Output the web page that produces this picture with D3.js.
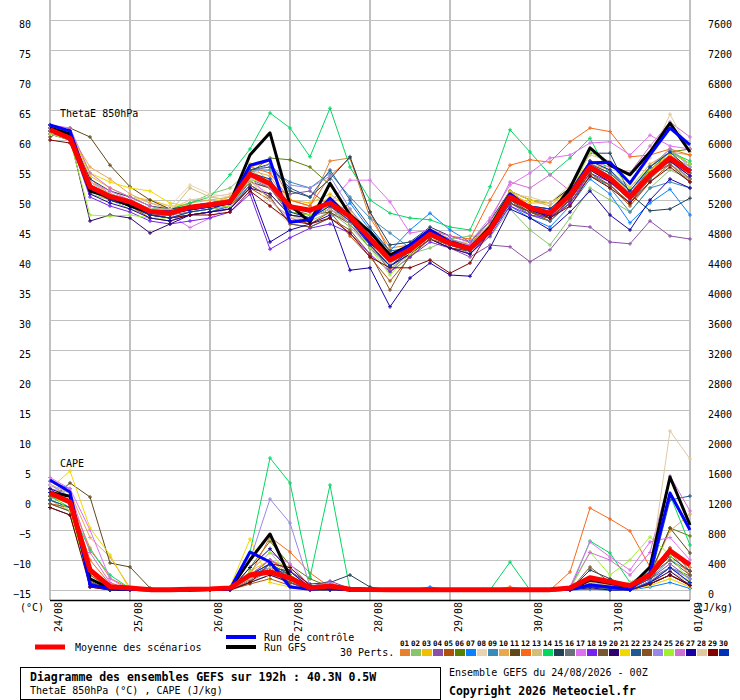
<!DOCTYPE html>
<html>
<head>
<meta charset="utf-8">
<script src="https://cdn.jsdelivr.net/npm/d3@7"></script>
<style>
  body { margin: 0; background: #fff; }
  svg { display: block; font-family: "DejaVu Sans Mono", monospace; }
</style>
</head>
<body>
<div id="chart"></div>
<script>

// Time steps (hours since 24/08 00Z)
var hours = [0,6,12,18,24,30,36,42,48,54,60,66,72,78,84,90,96,102,108,114,120,126,132,138,144,150,156,162,168,174,180,186,192];
var dayLabels = ['24/08','25/08','26/08','27/08','28/08','29/08','30/08','31/08','01/09'];
var dayHours = [0,24,48,72,96,120,144,168,192];
var leftTicks = [-15,-10,-5,0,5,10,15,20,25,30,35,40,45,50,55,60,65,70,75,80];
var rightTicks = [0,400,800,1200,1600,2000,2400,2800,3200,3600,4000,4400,4800,5200,5600,6000,6400,6800,7200,7600];

var pertNames = ['01','02','03','04','05','06','07','08','09','10','11','12','13','14','15',
                 '16','17','18','19','20','21','22','23','24','25','26','27','28','29','30'];
var pertColors = ['#e8812e','#88c46a','#f0c000','#8a50a8','#b0500a','#5a8000','#0a80ff','#e8d4b0','#3a8ab8','#e8a850',
                  '#604818','#f86818','#d0c078','#00d860','#204058','#687078','#e070f0','#7820f0','#785830','#300070',
                  '#f0d800','#205890','#885020','#9888e8','#a0f030','#d070d0','#1800a0','#e0c8a0','#800000','#0030b8'];

// ThetaE 850hPa (°C)
var thetaMean = [61.7,60.3,52.2,50.6,49.7,48.1,47.8,48.8,49.2,49.7,54.3,52.7,48.9,48.3,49.5,47.2,43.6,40.0,41.7,44.3,42.8,41.9,45.0,50.5,48.7,47.8,50.8,55.5,53.6,50.5,54.2,57.0,54.7];
var thetaCtrl = [62.5,61.5,52.0,50.5,49.5,48.0,48.0,48.5,49.0,49.5,55.8,56.7,46.3,46.7,50.3,47.0,43.0,40.3,42.5,45.0,43.0,42.0,45.0,51.0,48.5,47.5,51.0,56.2,56.3,52.8,57.5,62.0,59.2];
var thetaGfs  = [62.0,61.0,51.5,50.5,49.0,48.0,48.0,48.5,49.0,49.5,57.5,61.2,49.2,46.3,52.8,47.5,44.7,40.8,42.5,45.0,43.0,42.0,45.5,51.0,48.5,47.5,52.0,58.7,55.8,54.2,58.0,62.8,58.0];
var thetaPert = [
  [62.0,61.0,53.5,51.0,50.0,48.5,48.0,49.0,49.5,50.0,55.5,56.5,50.0,49.0,56.5,57.0,47.0,42.0,42.5,45.0,43.5,42.0,46.0,51.5,49.0,48.5,51.5,56.0,54.5,51.0,55.0,57.5,55.5],
  [61.0,60.0,51.0,50.0,48.5,47.5,47.0,49.5,51.0,52.0,55.0,53.0,47.5,46.5,48.0,45.5,42.0,38.5,41.0,42.0,43.5,44.0,43.8,48.5,45.0,42.5,47.0,52.0,50.0,48.0,52.0,55.0,53.5],
  [62.5,61.5,54.0,52.0,50.5,50.0,49.0,49.0,49.5,50.5,56.0,53.0,50.0,49.5,51.0,48.5,44.0,40.0,42.5,45.0,43.0,43.0,45.5,51.0,49.5,49.5,52.0,56.5,55.0,51.0,55.5,58.5,56.0],
  [61.5,60.5,52.5,50.5,49.5,48.0,47.5,48.0,48.5,49.0,53.0,52.0,51.0,51.5,49.0,46.0,42.0,39.0,41.5,44.5,42.0,40.5,42.5,42.2,39.7,41.7,45.8,45.5,43.0,42.7,46.5,44.0,43.5],
  [61.0,60.0,51.5,50.0,49.0,47.0,46.5,47.5,48.0,49.0,52.0,50.0,47.0,46.0,48.0,44.0,40.5,36.5,40.5,43.5,42.0,41.5,44.5,49.5,48.0,46.5,49.5,54.0,52.5,49.0,53.0,56.0,53.5],
  [62.0,61.0,52.0,50.5,49.5,48.5,48.5,49.0,49.5,50.0,54.5,57.0,56.7,55.5,52.5,47.5,44.0,40.5,42.0,44.5,43.0,42.5,45.0,50.5,49.0,48.0,51.0,55.5,54.0,51.0,55.0,58.0,58.5],
  [62.5,61.5,52.0,50.5,49.5,47.5,47.0,47.5,48.0,49.0,52.5,50.5,46.0,45.5,47.0,49.5,45.0,41.5,45.0,47.8,45.0,43.0,44.5,49.0,47.0,45.5,49.0,53.5,51.0,46.2,49.5,51.8,47.5],
  [61.5,60.5,53.0,51.5,50.5,49.5,49.0,52.5,51.0,50.5,53.5,49.0,46.0,47.5,48.5,46.0,43.0,39.5,42.0,44.0,42.5,42.0,45.5,50.0,48.5,47.5,50.5,55.0,53.0,50.5,54.0,57.0,55.5],
  [62.0,61.0,52.5,50.0,49.0,47.5,47.5,48.5,49.0,49.5,55.0,55.0,53.0,52.0,54.5,50.5,47.0,44.5,42.0,44.0,43.0,41.0,44.5,50.0,47.5,46.5,50.0,54.5,52.0,48.0,52.0,53.0,52.0],
  [62.0,61.0,55.5,53.5,51.0,49.5,48.5,49.5,50.0,50.5,55.0,54.0,49.0,48.0,50.0,48.0,44.5,41.0,42.5,45.0,43.5,42.5,46.0,51.5,50.0,49.0,52.0,56.0,55.0,52.0,56.0,58.0,57.5],
  [60.5,62.0,60.5,55.8,52.2,50.0,48.5,48.5,49.0,49.5,53.0,52.0,48.0,47.5,48.0,46.0,42.5,39.0,41.0,43.5,42.0,41.5,45.0,50.0,48.0,47.5,50.0,55.0,53.0,50.0,53.5,57.0,54.5],
  [61.5,60.5,52.5,51.0,50.0,48.5,48.0,49.0,49.5,50.0,55.5,54.5,50.0,49.0,54.0,57.0,48.0,41.0,42.5,45.0,44.0,43.5,50.0,55.8,56.7,56.3,59.7,62.0,61.4,57.2,57.5,58.5,57.5],
  [61.0,60.0,52.0,50.5,49.5,48.0,48.0,52.0,50.5,50.0,53.0,51.0,47.5,47.0,48.5,46.5,42.5,38.5,41.5,44.0,42.5,42.0,45.5,50.0,48.5,47.0,50.5,55.0,53.5,50.0,54.0,56.0,53.5],
  [62.0,61.0,53.0,51.0,50.0,48.5,48.5,49.5,50.5,54.2,58.5,64.5,62.0,57.2,65.3,55.5,50.0,47.8,47.0,46.7,45.5,45.0,52.2,61.7,58.0,54.2,57.0,60.3,54.0,50.0,55.5,58.0,56.5],
  [62.5,61.0,53.5,51.5,50.5,49.0,48.5,49.0,49.5,50.0,55.0,56.0,51.5,50.5,53.5,57.2,48.0,42.5,43.0,45.5,44.0,43.0,46.5,51.5,50.0,49.5,52.0,57.8,57.8,51.0,48.2,48.5,50.3],
  [61.5,60.5,52.0,50.0,49.0,47.5,47.0,48.0,48.5,49.0,53.5,52.0,47.5,47.0,49.0,47.0,43.0,38.0,41.5,44.0,42.5,41.5,44.5,49.5,47.5,46.5,49.5,54.0,52.5,49.5,53.5,56.5,53.5],
  [62.0,61.5,53.0,51.5,50.0,48.5,47.5,45.4,47.0,49.0,54.0,50.0,46.5,47.0,49.5,53.3,53.3,49.7,44.5,45.0,44.0,43.0,47.0,52.5,54.5,57.0,57.5,59.5,59.7,57.5,60.8,59.0,58.5],
  [61.0,60.0,50.5,49.0,48.0,46.5,46.0,46.5,47.0,48.0,51.0,41.8,43.7,45.3,46.0,44.5,41.0,38.0,40.5,43.0,42.0,41.0,44.0,49.0,47.5,47.0,49.5,54.5,53.0,50.0,54.0,56.5,54.0],
  [62.0,61.0,52.5,50.5,49.5,48.0,48.0,49.0,49.5,50.0,54.0,53.0,48.5,47.5,49.0,46.5,43.0,39.5,41.5,44.0,42.5,42.0,45.0,50.5,48.5,48.0,51.0,56.0,54.0,51.0,55.0,57.5,55.0],
  [61.5,60.5,46.5,47.5,47.0,44.5,46.0,47.5,48.0,48.5,52.0,51.0,47.5,47.0,48.5,46.0,42.5,39.0,41.0,43.5,42.0,41.0,44.5,49.5,48.0,47.0,50.0,55.0,53.0,50.5,54.5,56.5,54.0],
  [62.0,61.5,54.5,53.0,52.0,51.5,49.5,49.0,49.5,50.0,54.5,52.0,49.0,48.5,50.5,47.5,43.5,40.0,42.0,44.5,43.0,42.5,45.5,51.5,50.0,49.5,51.5,56.5,55.0,50.5,55.0,57.5,55.0],
  [62.0,61.0,52.5,50.5,49.5,47.5,47.5,48.5,49.0,50.0,55.0,55.5,52.0,50.5,55.0,50.0,45.5,41.5,42.0,44.5,43.5,42.0,45.0,50.5,49.0,48.5,51.0,56.0,54.5,51.5,55.5,58.0,56.0],
  [61.5,60.5,52.0,50.0,49.0,47.5,47.0,47.5,48.0,48.5,52.5,50.5,46.0,45.5,47.0,45.0,41.0,35.0,41.0,43.5,42.5,41.5,44.5,49.5,48.0,47.0,50.0,54.5,52.5,49.5,54.0,56.0,53.0],
  [62.0,61.0,53.0,51.0,50.0,48.5,48.0,48.5,49.0,49.5,54.5,56.0,52.5,52.0,54.0,48.5,44.5,40.5,42.0,44.5,43.5,42.5,45.5,50.5,49.0,48.5,51.0,56.0,54.0,51.0,55.5,58.5,55.5],
  [61.0,60.0,47.5,47.3,47.5,47.0,47.0,48.0,48.5,49.0,53.5,52.5,48.0,47.5,49.0,46.5,42.0,37.5,41.0,44.0,42.5,41.5,45.0,50.0,49.0,48.0,51.0,58.0,56.0,52.0,55.5,58.0,56.0],
  [62.5,62.0,54.5,52.0,50.5,49.0,48.0,49.0,49.5,50.0,54.0,52.0,48.5,48.0,50.0,47.5,43.5,40.0,42.5,45.0,43.0,42.5,46.5,53.0,52.0,54.2,51.5,56.5,55.5,54.5,59.0,63.0,60.5],
  [61.5,60.0,51.0,49.5,48.5,47.0,46.5,47.5,48.0,48.5,52.0,43.0,45.0,46.0,47.5,38.3,38.7,32.2,37.0,39.5,37.5,37.3,42.0,48.5,47.0,45.0,48.0,51.5,47.5,45.0,50.0,53.5,52.0],
  [61.5,60.5,53.0,51.0,50.0,48.5,48.5,50.0,50.5,51.0,53.5,50.0,47.0,47.0,48.5,46.0,42.5,39.5,42.0,44.5,43.0,42.0,45.5,51.0,50.5,49.5,52.5,57.5,56.5,52.5,57.0,64.3,58.0],
  [60.0,59.5,52.0,50.0,49.0,47.5,47.0,47.5,47.5,48.0,51.5,49.0,46.5,46.0,47.0,44.5,40.5,38.7,38.7,40.0,37.8,39.5,45.0,50.0,48.5,47.0,49.0,54.0,52.0,49.5,53.0,55.5,53.0],
  [62.5,61.5,52.0,50.0,49.0,47.5,47.0,48.0,48.5,49.5,54.5,53.5,48.0,47.0,49.0,46.5,42.5,39.0,41.5,44.0,42.5,41.5,45.0,50.5,49.0,48.5,51.5,56.5,55.0,51.5,55.5,58.0,55.0]
];

// CAPE (J/kg)
var capeMean = [1293,1173,267,44,27,5,5,10,15,27,200,240,160,27,53,10,5,5,5,5,5,5,5,5,5,5,27,164,111,57,200,524,333];
var capeCtrl = [1467,1307,67,20,10,0,0,0,5,10,507,373,40,10,30,0,0,0,0,0,0,0,0,0,0,0,10,67,40,10,227,1293,800];
var capeGfs  = [1300,1250,150,20,10,0,0,0,5,10,400,747,173,20,30,0,0,0,0,0,0,0,0,0,0,0,10,133,90,40,307,1507,867];
var capePert = [
  [1300,1200,560,160,20,0,0,0,0,0,150,300,250,20,0,0,0,0,0,0,0,0,0,0,0,0,0,120,80,40,250,560,300],
  [1200,1050,90,0,0,0,0,0,0,0,100,200,120,0,0,0,0,0,0,0,0,0,0,0,0,0,0,40,20,0,100,300,150],
  [1350,1250,200,40,0,0,0,0,0,0,250,400,200,0,0,0,0,0,0,0,0,0,0,0,0,0,0,30,20,0,80,200,60],
  [1400,1300,100,0,0,0,0,0,0,0,150,250,150,40,120,20,0,0,0,0,0,0,0,0,0,0,0,60,40,20,150,350,150],
  [1150,1100,150,0,0,0,0,0,0,0,80,150,60,0,0,0,0,0,0,0,0,0,0,0,0,0,0,20,0,0,80,200,80],
  [1250,1150,100,0,0,0,0,0,0,0,300,650,333,150,40,0,0,0,0,0,0,0,0,0,0,0,0,50,30,20,200,827,720],
  [1450,1350,50,0,0,0,0,0,0,0,200,300,100,0,0,0,0,0,0,40,0,0,0,0,0,0,0,10,0,0,40,100,20],
  [1300,1200,300,60,0,0,0,0,0,0,120,200,80,0,0,0,0,0,0,0,0,0,0,0,0,0,0,30,10,0,60,150,40],
  [1150,1050,80,0,0,0,0,0,0,0,150,350,200,20,0,0,0,0,0,0,0,0,0,0,0,0,0,80,40,20,150,400,250],
  [1350,1300,700,440,30,0,0,0,0,0,200,400,300,50,0,0,0,0,0,0,0,0,0,0,0,0,0,100,60,30,200,787,1013],
  [1200,1427,1240,360,307,27,0,0,0,0,150,250,150,0,0,0,0,0,0,0,0,0,0,0,0,0,0,100,60,30,200,827,493],
  [1300,1200,400,80,0,0,0,0,0,0,200,707,507,227,40,0,0,0,0,0,0,0,0,40,0,0,240,1093,947,787,307,500,200],
  [1250,1150,150,20,0,0,0,0,0,0,100,200,100,0,0,0,0,0,0,0,0,0,0,0,0,0,0,40,20,0,80,250,100],
  [1250,1100,533,200,20,0,0,0,0,30,500,1760,1427,173,1400,0,0,0,0,0,0,0,0,373,0,0,0,653,493,100,250,1267,600],
  [1100,1000,80,0,0,0,0,0,0,0,150,300,250,80,100,200,40,0,0,0,0,0,0,0,0,0,0,267,150,40,200,450,250],
  [1200,1100,100,0,0,0,0,0,0,0,120,250,150,20,0,0,0,0,0,0,0,0,0,0,0,0,0,60,40,20,150,300,187],
  [1500,1350,800,150,0,0,0,0,0,0,250,500,350,50,0,0,0,0,0,0,0,0,0,0,0,0,40,640,440,267,640,700,400],
  [1350,1150,60,0,0,0,0,0,0,0,200,400,250,40,0,0,0,0,0,0,0,0,0,0,0,0,0,80,40,0,100,300,100],
  [1250,1200,200,20,0,0,0,0,0,0,150,300,200,30,0,0,0,0,0,0,0,0,0,0,0,0,0,307,100,40,200,400,200],
  [1300,1150,40,0,0,0,0,0,0,0,100,200,100,0,0,0,0,0,0,0,0,0,0,0,0,0,0,40,20,0,100,250,60],
  [1350,1587,827,467,0,0,0,0,0,40,680,100,40,0,0,0,0,0,0,0,0,0,0,0,0,0,0,30,20,0,60,150,40],
  [1200,1100,100,0,0,0,0,0,0,0,200,350,200,20,0,0,0,0,0,0,0,0,0,0,0,0,0,80,40,20,150,1200,1253],
  [1150,1050,120,0,0,0,0,0,0,0,150,250,100,0,0,0,0,0,0,0,0,0,0,0,0,0,0,60,30,0,120,560,250],
  [1400,1250,300,40,0,0,0,0,0,0,400,1213,893,50,100,0,0,0,0,0,0,0,0,0,0,0,0,50,30,0,120,300,150],
  [1300,1050,60,0,0,0,0,0,0,0,250,500,200,40,0,0,0,0,0,0,0,0,0,0,0,0,0,507,200,400,707,467,100],
  [1450,1300,500,100,0,0,0,0,0,0,200,400,250,50,0,0,0,0,0,0,0,0,0,0,0,0,40,500,400,200,500,1520,1053],
  [1350,1250,80,0,0,0,0,0,0,0,300,550,250,30,0,0,0,0,0,0,0,0,0,0,0,0,0,30,0,0,80,200,60],
  [1400,1300,250,40,0,0,0,0,0,0,150,300,150,20,0,0,0,0,0,0,0,0,0,0,0,0,0,100,60,100,250,2120,1747],
  [1100,1000,40,0,0,0,0,0,0,0,100,350,300,60,0,0,0,0,0,0,0,0,0,0,0,0,0,60,30,0,80,200,60],
  [1300,1200,80,0,0,0,0,0,0,0,200,350,150,0,0,0,0,0,0,0,0,0,0,0,0,0,0,40,20,0,100,300,100]
];


var width = 740, height = 700;
var plot = {left: 50, right: 690, top: 20, bottom: 590, axis: 600};

var svg = d3.select('#chart').append('svg')
	.attr('width', width)
	.attr('height', height);

var x = d3.scaleLinear().domain([0, 192]).range([plot.left, plot.right]);
var yTheta = d3.scaleLinear().domain([-15, 80]).range([plot.bottom, plot.top]);
var yCape = d3.scaleLinear().domain([0, 7600]).range([plot.bottom, plot.top]);

// Grid
var grid = svg.append('g').attr('stroke', '#c0c0c0').attr('shape-rendering', 'crispEdges');

grid.selectAll('line.h')
	.data(leftTicks)
	.enter().append('line')
	.attr('class', 'h')
	.attr('x1', plot.left).attr('x2', plot.right)
	.attr('y1', (d) => yTheta(d)).attr('y2', (d) => yTheta(d))
	.attr('stroke-width', 1);

grid.selectAll('line.v')
	.data(dayHours)
	.enter().append('line')
	.attr('class', 'v')
	.attr('x1', (d) => x(d)).attr('x2', (d) => x(d))
	.attr('y1', 0).attr('y2', plot.axis)
	.attr('stroke-width', 2);

svg.append('line')
	.attr('x1', plot.left).attr('x2', plot.right)
	.attr('y1', plot.axis + 0.5).attr('y2', plot.axis + 0.5)
	.attr('stroke', '#000').attr('stroke-width', 1.5);

// Axes (labels only)
var leftAxis = svg.append('g')
	.attr('transform', 'translate(' + plot.left + ',0)')
	.call(d3.axisLeft(yTheta).tickValues(leftTicks).tickSize(0).tickPadding(19).tickFormat(d3.format('d')));

var rightAxis = svg.append('g')
	.attr('transform', 'translate(' + plot.right + ',0)')
	.call(d3.axisRight(yCape).tickValues(rightTicks).tickSize(0).tickPadding(18).tickFormat(d3.format('d')));

[leftAxis, rightAxis].forEach(function(ax) {
	ax.select('.domain').remove();
	ax.selectAll('text')
		.attr('dy', '0.78em')
		.attr('font-family', '"DejaVu Sans Mono", monospace')
		.attr('font-size', 10)
		.attr('fill', '#000');
});

var dayAxis = svg.append('g');
dayAxis.selectAll('text')
	.data(dayLabels)
	.enter().append('text')
	.attr('transform', (d, i) => 'translate(' + (x(dayHours[i]) + 12) + ',' + (plot.axis + 2) + ') rotate(-90)')
	.attr('text-anchor', 'end')
	.attr('font-size', 10)
	.text((d) => d);

svg.append('text').attr('x', 20).attr('y', 611).attr('font-size', 10).text('(°C)');
svg.append('text').attr('x', 697).attr('y', 611).attr('font-size', 10).text('(J/kg)');

svg.append('text').attr('x', 60).attr('y', 117).attr('font-size', 10).text('ThetaE 850hPa');
svg.append('text').attr('x', 60).attr('y', 467).attr('font-size', 10).text('CAPE');


// Series
var thetaLine = d3.line()
	.x((d, i) => x(hours[i]))
	.y((d) => yTheta(d));

var capeLine = d3.line()
	.x((d, i) => x(hours[i]))
	.y((d) => yCape(d));

function drawMembers(data, lineGen, yScale) {

	var g = svg.append('g');

	var members = g.selectAll('g')
		.data(data)
		.enter().append('g')
		.attr('stroke', (d, i) => pertColors[i])
		.attr('fill', 'none');

	members.append('path')
		.attr('d', (d) => lineGen(d))
		.attr('stroke-width', 1);

	// small '+' markers at every step
	members.selectAll('path.mk')
		.data((d) => d)
		.enter().append('path')
		.attr('class', 'mk')
		.attr('stroke-width', 1)
		.attr('d', function(d, i) {
			var px = x(hours[i]), py = yScale(d);
			return 'M' + (px - 2) + ',' + py + 'H' + (px + 2) + 'M' + px + ',' + (py - 2) + 'V' + (py + 2);
		});
}

function drawThick(data, lineGen, color, w) {
	svg.append('path')
		.attr('d', lineGen(data))
		.attr('fill', 'none')
		.attr('stroke', color)
		.attr('stroke-width', w)
		.attr('stroke-linejoin', 'round');
}

drawMembers(thetaPert, thetaLine, yTheta);
drawMembers(capePert, capeLine, yCape);

drawThick(thetaGfs, thetaLine, '#000', 3);
drawThick(capeGfs, capeLine, '#000', 3);
drawThick(thetaCtrl, thetaLine, '#0000ff', 3);
drawThick(capeCtrl, capeLine, '#0000ff', 3);
drawThick(thetaMean, thetaLine, '#ff0000', 5);
drawThick(capeMean, capeLine, '#ff0000', 5);


// Legend
var legend = svg.append('g').attr('font-size', 10);

legend.append('line').attr('x1', 35).attr('x2', 65).attr('y1', 647).attr('y2', 647)
	.attr('stroke', '#ff0000').attr('stroke-width', 5);
legend.append('text').attr('x', 75).attr('y', 651).text('Moyenne des scénarios');

legend.append('line').attr('x1', 226).attr('x2', 256).attr('y1', 637).attr('y2', 637)
	.attr('stroke', '#0000ff').attr('stroke-width', 4);
legend.append('text').attr('x', 264).attr('y', 641).text('Run de contrôle');

legend.append('line').attr('x1', 226).attr('x2', 256).attr('y1', 647).attr('y2', 647)
	.attr('stroke', '#000').attr('stroke-width', 4);
legend.append('text').attr('x', 264).attr('y', 651).text('Run GFS');

legend.append('text').attr('x', 340).attr('y', 656).text('30 Perts.');

var sw = legend.selectAll('g.sw')
	.data(pertNames)
	.enter().append('g')
	.attr('class', 'sw')
	.attr('transform', (d, i) => 'translate(' + (400 + i * 11) + ',0)');

sw.append('text')
	.attr('x', 0).attr('y', 646)
	.attr('font-size', 7.5).attr('font-weight', 'bold')
	.text((d) => d);

sw.append('rect')
	.attr('x', 0).attr('y', 649)
	.attr('width', 10).attr('height', 7)
	.attr('fill', (d, i) => pertColors[i]);


// Title box
svg.append('rect')
	.attr('x', 20.5).attr('y', 667.5)
	.attr('width', 420).attr('height', 32)
	.attr('fill', 'none').attr('stroke', '#000').attr('stroke-width', 1);

svg.append('text').attr('x', 30).attr('y', 681)
	.attr('font-size', 11.5).attr('font-weight', 'bold')
	.text('Diagramme des ensembles GEFS sur 192h : 40.3N 0.5W');
svg.append('text').attr('x', 30).attr('y', 694).attr('font-size', 10)
	.text('ThetaE 850hPa (°C) , CAPE (J/kg)');

svg.append('text').attr('x', 449).attr('y', 676).attr('font-size', 10)
	.text('Ensemble GEFS du 24/08/2026 - 00Z');
svg.append('text').attr('x', 449).attr('y', 695)
	.attr('font-size', 11.5).attr('font-weight', 'bold')
	.text('Copyright 2026 Meteociel.fr');

</script>
</body>
</html>
